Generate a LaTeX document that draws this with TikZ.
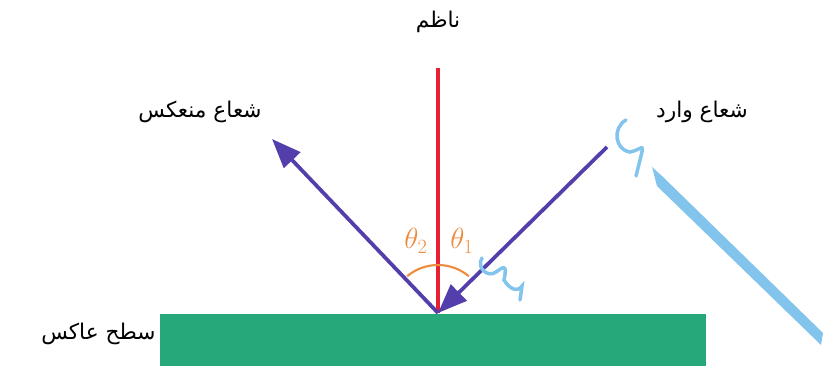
\documentclass[tikz,border=0pt]{standalone}
\usepackage{fontspec}
\usepackage{tikz}
\usetikzlibrary{arrows.meta,positioning}
\TeXXeTstate=1
\newfontfamily\arabicfont[Script=Arabic]{DejaVu Sans}
\definecolor{normalred}{RGB}{232,32,52}
\definecolor{raypurple}{RGB}{84,62,172}
\definecolor{surfgreen}{RGB}{38,168,122}
\definecolor{angleorange}{RGB}{238,140,62}
\definecolor{inkblue}{RGB}{130,196,236}
\tikzset{
  lbl/.style={font=\arabicfont\fontsize{18.5}{21}\selectfont, inner sep=1pt},
  ray/.style={raypurple, line width=3.2pt, -{Triangle[length=25pt,width=19pt]}},
  anglbl/.style={angleorange, font=\fontsize{25}{27}\selectfont, inner sep=0pt},
}

\begin{document}
\begin{tikzpicture}[x=0.03cm,y=-0.03cm]
    \useasboundingbox (0,0) rectangle (824,369);
    % سطح عاکس
    \fill[surfgreen] (160,314) rectangle (706,366);
    \node[lbl, anchor=east] (surf) at (157,334) {\beginR سطح عاکس\endR};
    % Normal
    \coordinate (O) at (438,313);
    \coordinate (top) at (438,68);
    \draw[normalred, line width=2.6pt] (top) -- (O);
    \node[lbl] (normal) at (438,22) {\beginR ناظم\endR};
    % Angle arc
    \draw[angleorange, line width=1.8pt] (O) ++(-50:48) arc (-50:-130:48);
    \node[anglbl] (th2) at (416,241) {$\theta_2$};
    \node[anglbl] (th1) at (462,241) {$\theta_1$};
    % Rays
    \coordinate (inc) at (607,147);
    \coordinate (refl) at (272,139);
    \draw[ray] (inc) -- (O);
    \draw[ray] (O) -- (refl);
    \node[lbl] (lref) at (200,112) {\beginR شعاع منعکس\endR};
    \node[lbl] (linc) at (702,112) {\beginR شعاع وارد\endR};
    % Pen marks
    \fill[inkblue] (652,167) -- (662,176) -- (823,333) -- (821,345) -- (657,186) -- cycle;
    \draw[inkblue, line width=3pt, line cap=round]
      (626,120) .. controls (612,128) and (615,150) .. (630,152)
      .. controls (642,150) and (645,140) .. (640,160) -- (636,176);
    \draw[inkblue, line width=3pt, line cap=round]
      (482,258) .. controls (476,268) and (488,278) .. (496,272)
      .. controls (502,268) and (508,262) .. (504,280)
      .. controls (510,290) and (518,292) .. (522,286) -- (520,300);
\end{tikzpicture}
\end{document}
